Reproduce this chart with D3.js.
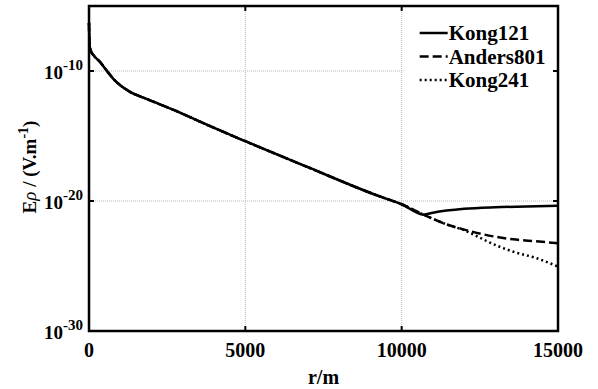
<!DOCTYPE html>
<html>
<head>
<meta charset="utf-8">
<script src="https://cdn.jsdelivr.net/npm/d3@7/dist/d3.min.js"></script>
<style>
  body { margin: 0; background: #fff; }
  text { font-family: "Liberation Serif", "Times New Roman", serif; font-weight: bold; fill: #000; }
</style>
</head>
<body>
<script>
    // r in metres, field as log10 exponent
    var rKong121 = [0, 20, 50, 150, 350, 576, 778, 1000, 1311, 1845, 2910, 3550, 5000, 7000, 9300, 10000, 10700, 11000, 12000, 13000, 14000, 15000];
    var eKong121 = [-6.3, -8.0, -8.4, -8.8, -9.3, -10.0, -10.6, -11.1, -11.6, -12.15, -13.2, -13.9, -15.4, -17.4, -19.65, -20.25, -21.05, -20.9, -20.6, -20.48, -20.42, -20.36];
    var rAnders801 = [0, 20, 50, 150, 350, 576, 778, 1000, 1311, 1845, 2910, 3550, 5000, 7000, 9300, 10000, 10700, 11440, 12000, 12400, 13000, 13570, 14300, 15000];
    var eAnders801 = [-6.3, -8.0, -8.4, -8.8, -9.3, -10.0, -10.6, -11.1, -11.6, -12.15, -13.2, -13.9, -15.4, -17.4, -19.65, -20.25, -21.05, -21.8, -22.2, -22.45, -22.75, -22.95, -23.1, -23.25];
    var rKong241 = [0, 20, 50, 150, 350, 576, 778, 1000, 1311, 1845, 2910, 3550, 5000, 7000, 9300, 10000, 10700, 11440, 12000, 12400, 12823, 13570, 14318, 15000];
    var eKong241 = [-6.3, -8.0, -8.4, -8.8, -9.3, -10.0, -10.6, -11.1, -11.6, -12.15, -13.2, -13.9, -15.4, -17.4, -19.65, -20.25, -21.05, -21.8, -22.25, -22.7, -23.2, -23.9, -24.4, -25.05];

    var xTicks = [0, 5000, 10000, 15000];
    var yTickExp = [-10, -20, -30];
    var seriesNames = ["Kong121", "Anders801", "Kong241"];
    var seriesDash = [null, "9,4", "2,3"];

    var margin = {top: 6, right: 40, bottom: 58, left: 89},
        svgWidth = 598,
        svgHeight = 389,
        width = svgWidth - margin.left - margin.right,
        height = svgHeight - margin.top - margin.bottom;

    var series = [
        rKong121.map(function (r, i) { return {r: r, e: eKong121[i]}; }),
        rAnders801.map(function (r, i) { return {r: r, e: eAnders801[i]}; }),
        rKong241.map(function (r, i) { return {r: r, e: eKong241[i]}; })
    ];

    var svg = d3.select("body").append("svg")
        .attr("width", svgWidth)
        .attr("height", svgHeight);
    var g = svg.append("g")
        .attr("transform", "translate(" + margin.left + "," + margin.top + ")");

    var x = d3.scaleLinear().domain([0, 15000]).range([0, width]);
    var y = d3.scaleLog().domain([1e-30, 1e-5]).range([height, 0]);

    // grid
    g.selectAll(".vgrid").data(xTicks.slice(1, 3)).enter().append("line")
        .attr("x1", function (d) { return x(d); }).attr("x2", function (d) { return x(d); })
        .attr("y1", 0).attr("y2", height)
        .attr("stroke", "#b8b8b8").attr("stroke-width", 1).attr("stroke-dasharray", "1,1");
    g.selectAll(".hgrid").data(yTickExp.slice(0, 2)).enter().append("line")
        .attr("x1", 0).attr("x2", width)
        .attr("y1", function (d) { return y(Math.pow(10, d)); }).attr("y2", function (d) { return y(Math.pow(10, d)); })
        .attr("stroke", "#b8b8b8").attr("stroke-width", 1).attr("stroke-dasharray", "1,1");

    var line = d3.line()
        .curve(d3.curveMonotoneX)
        .x(function (d) { return x(d.r); })
        .y(function (d) { return y(Math.pow(10, d.e)); });

    // draw dotted and dashed first, solid on top
    [2, 1, 0].forEach(function (i) {
        g.append("path")
            .datum(series[i])
            .attr("fill", "none")
            .attr("stroke", "#000")
            .attr("stroke-width", 2.5)
            .attr("stroke-dasharray", seriesDash[i])
            .attr("d", line);
    });

    // legend (white box hides grid)
    var lg = g.append("g").attr("transform", "translate(" + (x(10000) + 2) + ",0)");
    lg.append("rect").attr("x", 0).attr("y", 1).attr("width", width - x(10000) - 4).attr("height", 92).attr("fill", "#fff");
    seriesNames.forEach(function (name, i) {
        var ly = 27 + i * 23.5;
        lg.append("line")
            .attr("x1", 16).attr("x2", 44)
            .attr("y1", ly).attr("y2", ly)
            .attr("stroke", "#000").attr("stroke-width", 2.5)
            .attr("stroke-dasharray", seriesDash[i]);
        lg.append("text")
            .attr("x", 45).attr("y", ly + 7)
            .style("font-size", "21px")
            .text(name);
    });

    // ticks inward on all four sides
    var tickLen = 5;
    xTicks.slice(1, 3).forEach(function (t) {
        g.append("line").attr("x1", x(t)).attr("x2", x(t)).attr("y1", height).attr("y2", height - tickLen).attr("stroke", "#000").attr("stroke-width", 2);
        g.append("line").attr("x1", x(t)).attr("x2", x(t)).attr("y1", 0).attr("y2", tickLen).attr("stroke", "#000").attr("stroke-width", 2);
    });
    yTickExp.slice(0, 2).forEach(function (t) {
        var yy = y(Math.pow(10, t));
        g.append("line").attr("x1", 0).attr("x2", tickLen).attr("y1", yy).attr("y2", yy).attr("stroke", "#000").attr("stroke-width", 2);
        g.append("line").attr("x1", width).attr("x2", width - tickLen).attr("y1", yy).attr("y2", yy).attr("stroke", "#000").attr("stroke-width", 2);
    });

    // frame
    g.append("rect").attr("x", 0).attr("y", 0).attr("width", width).attr("height", height)
        .attr("fill", "none").attr("stroke", "#000").attr("stroke-width", 2.5);

    // x tick labels
    g.selectAll(".xlab").data(xTicks).enter().append("text")
        .attr("x", function (d) { return x(d); })
        .attr("y", height + 26)
        .attr("text-anchor", "middle")
        .style("font-size", "20px")
        .text(function (d) { return d; });

    // y tick labels 10^n
    yTickExp.forEach(function (t) {
        var tx = g.append("text")
            .attr("x", -6)
            .attr("y", y(Math.pow(10, t)) + 8)
            .attr("text-anchor", "end")
            .style("font-size", "19px");
        tx.append("tspan").text("10");
        tx.append("tspan").attr("dy", -9).style("font-size", "15px").text(t);
    });

    // axis titles
    g.append("text")
        .attr("x", width / 2)
        .attr("y", height + 53)
        .attr("text-anchor", "middle")
        .style("font-size", "20px")
        .text("r/m");

    var yl = svg.append("text")
        .attr("transform", "translate(36," + (margin.top + 161) + ") rotate(-90)")
        .attr("text-anchor", "middle")
        .style("font-size", "19px");
    yl.append("tspan").text("E");
    yl.append("tspan").style("font-style", "italic").style("font-weight", "normal").text("\u03c1");
    yl.append("tspan").text(" / (V.m");
    yl.append("tspan").attr("dy", -8).style("font-size", "14px").text("-1");
    yl.append("tspan").attr("dy", 8).text(")");
</script>
</body>
</html>
